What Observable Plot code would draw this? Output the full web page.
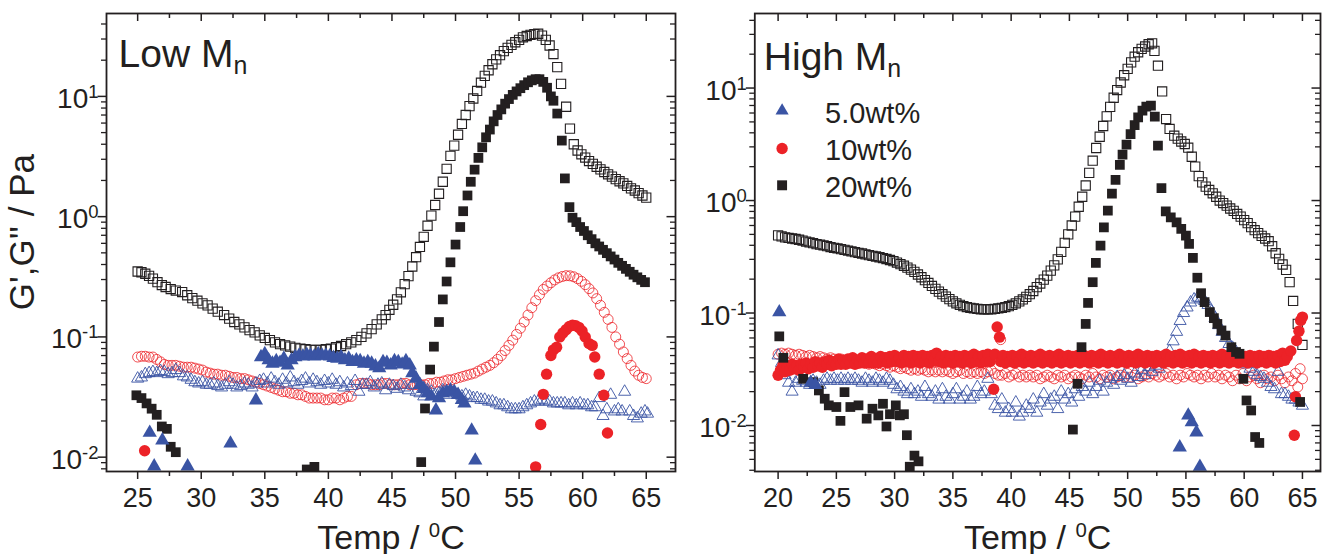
<!DOCTYPE html>
<html><head><meta charset="utf-8">
<script src="https://cdn.jsdelivr.net/npm/d3@7"></script>
<script src="https://cdn.jsdelivr.net/npm/@observablehq/plot@0.6"></script>
<style>
body{margin:0;background:#fff;}
#wrap{position:relative;width:1322px;height:554px;font-family:"Liberation Sans",Arial,sans-serif;}
#wrap svg{position:absolute;top:0;}
</style></head><body><div id="wrap"></div>
<script>
// ---------- DATA (Temp °C, modulus Pa) ----------
// Low Mn panel
const low20_Gpp = [[25.0,0.35],[25.3,0.345],[25.6,0.335],[25.9,0.322],[26.2,0.305],[26.56,0.285],[26.9,0.27],[27.2,0.26],[27.6,0.25],[28.0,0.243],[28.5,0.236],[28.9,0.222],[29.3,0.21],[29.7,0.2],[30.1,0.19],[30.5,0.183],[30.9,0.172],[31.3,0.162],[31.8,0.152],[32.2,0.142],[32.6,0.133],[33.0,0.127],[33.4,0.12],[33.8,0.114],[34.2,0.109],[34.6,0.103],[35.0,0.098],[35.4,0.094],[35.8,0.09],[36.2,0.087],[36.6,0.085],[37.0,0.083],[37.4,0.081],[37.8,0.08],[38.2,0.079],[38.6,0.078],[39.0,0.078],[39.4,0.078],[39.8,0.079],[40.2,0.08],[40.6,0.082],[41.0,0.084],[41.4,0.087],[41.8,0.09],[42.2,0.094],[42.6,0.1],[43.0,0.107],[43.4,0.116],[43.8,0.127],[44.2,0.14],[44.5,0.152],[44.8,0.168],[45.1,0.185],[45.4,0.205],[45.7,0.235],[46.0,0.275],[46.3,0.32],[46.6,0.385],[46.9,0.46],[47.2,0.56],[47.5,0.68],[47.8,0.84],[48.1,1.02],[48.4,1.25],[48.7,1.55],[49.0,1.95],[49.3,2.5],[49.6,3.2],[49.9,3.9],[50.2,4.8],[50.5,5.9],[50.8,7.0],[51.1,8.3],[51.4,9.6],[51.7,11.1],[52.0,13.0],[52.3,14.8],[52.6,16.5],[52.9,18.5],[53.2,20.3],[53.5,22.0],[53.8,23.8],[54.1,25.3],[54.4,26.8],[54.7,28.2],[55.0,29.5],[55.3,31.0],[55.6,31.8],[55.9,32.5],[56.2,33.0],[56.5,33.2],[56.8,32.0],[57.1,29.5],[57.4,26.5],[57.7,22.5],[58.0,17.5],[58.3,12.7],[58.7,8.2],[59.0,5.4],[59.3,4.0],[59.6,3.55],[59.9,3.3],[60.2,3.1],[60.5,2.9],[60.8,2.75],[61.1,2.6],[61.4,2.47],[61.7,2.35],[62.0,2.25],[62.3,2.15],[62.6,2.05],[62.9,1.97],[63.2,1.89],[63.5,1.8],[63.8,1.72],[64.1,1.65],[64.4,1.57],[64.7,1.5],[65.0,1.44]];
const low20_Gp = [[24.9,0.0327],[25.3,0.031],[25.7,0.028],[26.1,0.0253],[26.5,0.0225],[26.9,0.018],[27.3,0.0172],[27.6,0.0122],[28.0,0.011],[38.3,0.0079],[38.9,0.0083],[47.3,0.0091],[47.6,0.0254],[48.0,0.0535],[48.3,0.083],[48.7,0.133],[49.0,0.205],[49.3,0.289],[49.6,0.417],[50.0,0.586],[50.37,0.82],[50.6,1.11],[50.94,1.5],[51.2,1.95],[51.5,2.46],[51.8,3.08],[52.1,3.77],[52.4,4.57],[52.7,5.3],[53.0,6.2],[53.3,7.0],[53.6,7.8],[53.9,8.7],[54.2,9.5],[54.5,10.3],[54.8,11.0],[55.1,11.7],[55.4,12.4],[55.7,13.1],[56.0,13.6],[56.3,13.9],[56.6,13.9],[56.9,13.2],[57.2,11.8],[57.5,10.0],[57.7,9.2],[58.0,7.2],[58.36,4.29],[58.6,2.08],[58.96,1.2],[59.2,0.98],[59.5,0.9],[59.8,0.82],[60.1,0.76],[60.4,0.7],[60.7,0.65],[61.0,0.6],[61.3,0.565],[61.6,0.53],[61.9,0.497],[62.2,0.467],[62.5,0.44],[62.8,0.413],[63.1,0.39],[63.4,0.368],[63.7,0.348],[64.0,0.329],[64.3,0.313],[64.6,0.298],[64.9,0.285]];
const low10_Gpp = [[25.0,0.068],[25.3,0.069],[25.6,0.069],[25.9,0.068],[26.2,0.068],[26.5,0.065],[26.8,0.062],[27.1,0.059],[27.4,0.058],[27.7,0.058],[28.0,0.058],[28.3,0.057],[28.6,0.056],[28.9,0.056],[29.2,0.056],[29.5,0.055],[29.8,0.054],[30.1,0.053],[30.4,0.051],[30.7,0.05],[31.0,0.049],[31.3,0.049],[31.6,0.048],[31.9,0.048],[32.2,0.047],[32.5,0.046],[32.8,0.046],[33.1,0.045],[33.4,0.045],[33.7,0.044],[34.0,0.043],[34.3,0.042],[34.6,0.041],[34.9,0.04],[35.2,0.039],[35.5,0.038],[35.8,0.037],[36.1,0.036],[36.4,0.035],[36.7,0.035],[37.0,0.034],[37.3,0.034],[37.6,0.033],[37.9,0.033],[38.2,0.032],[38.5,0.031],[38.8,0.031],[39.1,0.031],[39.4,0.031],[39.7,0.03],[40.0,0.03],[40.3,0.031],[40.6,0.031],[40.9,0.03],[41.2,0.031],[41.5,0.032],[41.8,0.032],[42.2,0.04],[42.5,0.041],[42.8,0.041],[43.1,0.041],[43.4,0.04],[43.7,0.04],[44.0,0.04],[44.3,0.041],[44.6,0.041],[44.9,0.04],[45.2,0.04],[45.5,0.04],[45.8,0.041],[46.1,0.041],[46.4,0.04],[46.7,0.04],[47.0,0.04],[47.3,0.04],[47.6,0.04],[47.9,0.041],[48.2,0.041],[48.5,0.042],[48.8,0.042],[49.1,0.043],[49.4,0.044],[49.7,0.044],[50.0,0.045],[50.3,0.046],[50.6,0.047],[50.9,0.048],[51.2,0.049],[51.5,0.05],[51.8,0.052],[52.1,0.054],[52.4,0.056],[52.7,0.058],[53.0,0.061],[53.3,0.065],[53.6,0.07],[53.9,0.077],[54.2,0.085],[54.5,0.094],[54.8,0.105],[55.1,0.118],[55.4,0.133],[55.7,0.152],[56.0,0.175],[56.3,0.2],[56.6,0.224],[56.9,0.248],[57.2,0.265],[57.5,0.282],[57.8,0.298],[58.1,0.31],[58.4,0.318],[58.7,0.323],[59.0,0.322],[59.3,0.316],[59.6,0.305],[59.9,0.29],[60.2,0.272],[60.5,0.252],[60.8,0.232],[61.1,0.208],[61.4,0.183],[61.7,0.16],[62.0,0.14],[62.3,0.12],[62.6,0.1],[62.9,0.087],[63.2,0.075],[63.5,0.066],[63.8,0.058],[64.1,0.052],[64.4,0.048],[64.7,0.046],[65.0,0.045]];
const low10_Gp = [[25.55,0.0113],[56.3,0.0083],[56.7,0.0187],[56.9,0.0333],[57.16,0.049],[57.5,0.07],[57.7,0.078],[57.95,0.082],[58.2,0.1],[58.45,0.108],[58.7,0.115],[58.95,0.122],[59.2,0.125],[59.45,0.124],[59.7,0.12],[59.95,0.112],[60.2,0.1],[60.5,0.088],[60.75,0.085],[60.95,0.068],[61.3,0.049],[61.66,0.0327],[61.95,0.0159]];
const low5_Gpp = [[25.0,0.045],[25.3,0.046],[25.6,0.049],[25.9,0.05],[26.2,0.051],[26.5,0.05],[26.8,0.052],[27.1,0.051],[27.4,0.049],[27.7,0.05],[28.0,0.053],[28.3,0.05],[28.6,0.047],[28.9,0.046],[29.2,0.044],[29.5,0.042],[29.8,0.041],[30.1,0.042],[30.4,0.04],[30.7,0.04],[31.0,0.041],[31.3,0.039],[31.6,0.038],[31.9,0.04],[32.2,0.042],[32.5,0.04],[32.8,0.038],[33.1,0.039],[33.4,0.041],[33.7,0.04],[34.0,0.038],[34.3,0.041],[34.6,0.043],[34.9,0.044],[35.2,0.041],[35.5,0.045],[35.8,0.042],[36.1,0.04],[36.4,0.044],[36.7,0.041],[37.0,0.046],[37.3,0.042],[37.6,0.04],[37.9,0.043],[38.2,0.045],[38.5,0.041],[38.8,0.044],[39.1,0.042],[39.4,0.04],[39.7,0.043],[40.0,0.041],[40.3,0.044],[40.6,0.04],[40.9,0.042],[41.2,0.038],[41.5,0.041],[41.8,0.039],[42.1,0.043],[42.4,0.035],[42.7,0.04],[43.0,0.04],[43.3,0.042],[43.6,0.038],[43.9,0.04],[44.2,0.041],[44.5,0.036],[44.8,0.04],[45.1,0.039],[45.4,0.037],[45.7,0.04],[46.0,0.038],[46.3,0.036],[46.6,0.04],[46.9,0.035],[47.2,0.034],[47.5,0.032],[47.8,0.036],[48.1,0.035],[48.4,0.033],[48.7,0.034],[49.0,0.036],[49.3,0.033],[49.6,0.035],[49.9,0.034],[50.2,0.033],[50.5,0.032],[50.8,0.033],[51.1,0.032],[51.4,0.031],[51.7,0.031],[52.0,0.03],[52.3,0.03],[52.6,0.029],[52.9,0.029],[53.2,0.028],[53.5,0.027],[53.8,0.027],[54.1,0.026],[54.4,0.025],[54.7,0.025],[55.0,0.025],[55.3,0.026],[55.6,0.027],[55.9,0.028],[56.2,0.029],[56.5,0.029],[56.8,0.03],[57.1,0.029],[57.4,0.029],[57.7,0.028],[58.0,0.028],[58.3,0.028],[58.6,0.028],[58.9,0.027],[59.2,0.028],[59.5,0.027],[59.8,0.028],[60.1,0.027],[60.4,0.027],[60.7,0.026],[61.0,0.026],[61.3,0.031],[61.6,0.022],[61.9,0.025],[62.2,0.033],[62.5,0.024],[62.8,0.025],[63.1,0.024],[63.3,0.035],[63.7,0.024],[64.0,0.022],[64.3,0.021],[64.6,0.023],[64.9,0.024],[65.1,0.023]];
const low5_Gp = [[25.95,0.016],[26.3,0.0084],[26.94,0.0138],[28.93,0.0084],[32.3,0.013],[34.3,0.0297],[34.7,0.068],[35.0,0.072],[35.3,0.064],[35.6,0.06],[35.9,0.063],[36.2,0.061],[36.5,0.066],[36.8,0.058],[37.1,0.064],[37.4,0.068],[37.7,0.07],[38.0,0.069],[38.3,0.071],[38.6,0.07],[38.9,0.069],[39.2,0.072],[39.5,0.07],[39.8,0.07],[40.1,0.069],[40.4,0.067],[40.7,0.066],[41.0,0.068],[41.3,0.064],[41.6,0.066],[41.9,0.062],[42.2,0.064],[42.5,0.063],[42.8,0.06],[43.1,0.062],[43.4,0.06],[43.7,0.057],[44.0,0.055],[44.3,0.062],[44.6,0.061],[44.9,0.058],[45.2,0.063],[45.5,0.062],[45.8,0.059],[46.1,0.063],[46.4,0.058],[46.6,0.05],[46.9,0.045],[47.2,0.04],[47.5,0.037],[47.8,0.034],[48.1,0.032],[48.46,0.0245],[48.7,0.031],[49.0,0.034],[49.3,0.035],[49.6,0.036],[49.9,0.035],[50.2,0.033],[50.5,0.03],[50.7,0.028],[51.27,0.0167],[51.55,0.0094]];

// High Mn panel
const high20_Gpp = [[20.0,0.49],[20.3,0.48],[20.6,0.47],[20.9,0.465],[21.2,0.46],[21.5,0.455],[21.8,0.448],[22.1,0.44],[22.4,0.432],[22.7,0.425],[23.0,0.418],[23.3,0.41],[23.6,0.405],[23.9,0.4],[24.2,0.393],[24.5,0.386],[24.8,0.38],[25.1,0.375],[25.4,0.37],[25.7,0.364],[26.0,0.358],[26.3,0.353],[26.6,0.348],[26.9,0.343],[27.2,0.338],[27.5,0.332],[27.8,0.327],[28.1,0.322],[28.4,0.318],[28.7,0.313],[29.0,0.308],[29.3,0.302],[29.6,0.296],[29.9,0.289],[30.2,0.281],[30.5,0.272],[30.8,0.263],[31.1,0.253],[31.4,0.243],[31.7,0.232],[32.0,0.22],[32.3,0.208],[32.6,0.196],[32.9,0.185],[33.2,0.174],[33.5,0.164],[33.8,0.155],[34.1,0.147],[34.4,0.14],[34.7,0.133],[35.0,0.127],[35.3,0.122],[35.6,0.118],[35.9,0.115],[36.2,0.113],[36.5,0.111],[36.8,0.11],[37.1,0.109],[37.4,0.108],[37.7,0.108],[38.0,0.108],[38.3,0.108],[38.6,0.109],[38.9,0.11],[39.2,0.111],[39.5,0.113],[39.8,0.115],[40.1,0.118],[40.4,0.122],[40.7,0.127],[41.0,0.132],[41.3,0.139],[41.6,0.147],[41.9,0.157],[42.2,0.17],[42.5,0.183],[42.8,0.198],[43.1,0.215],[43.4,0.238],[43.7,0.265],[44.0,0.3],[44.3,0.35],[44.6,0.42],[44.9,0.5],[45.2,0.6],[45.5,0.72],[45.8,0.88],[46.1,1.08],[46.4,1.36],[46.7,1.76],[47.0,2.26],[47.3,2.93],[47.6,3.69],[47.9,4.6],[48.2,5.6],[48.5,6.8],[48.8,8.2],[49.1,9.6],[49.4,11.2],[49.7,13.0],[50.0,14.8],[50.3,16.9],[50.6,19.0],[50.9,20.8],[51.2,22.3],[51.5,23.4],[51.8,24.5],[52.1,25.0],[52.3,21.4],[52.6,15.8],[52.96,9.33],[53.3,5.3],[53.6,4.33],[54.0,3.77],[54.3,3.55],[54.6,3.35],[54.9,3.18],[55.2,2.95],[55.5,2.45],[55.8,2.0],[56.1,1.65],[56.4,1.45],[56.7,1.33],[57.0,1.24],[57.3,1.16],[57.6,1.08],[57.9,1.0],[58.2,0.95],[58.5,0.9],[58.8,0.85],[59.1,0.81],[59.4,0.76],[59.7,0.72],[60.0,0.67],[60.3,0.63],[60.6,0.58],[60.9,0.545],[61.2,0.513],[61.5,0.485],[61.8,0.46],[62.1,0.435],[62.4,0.392],[62.7,0.34],[63.0,0.303],[63.3,0.27],[63.6,0.242],[63.9,0.188],[64.2,0.128],[64.6,0.08],[65.0,0.052]];
const high20_Gp = [[20.1,0.062],[20.45,0.04],[22.15,0.026],[23.0,0.0243],[23.5,0.0205],[24.0,0.0173],[24.35,0.0151],[25.0,0.0146],[25.35,0.011],[25.7,0.0198],[26.2,0.0146],[26.9,0.0151],[27.6,0.0115],[28.1,0.0141],[28.6,0.0123],[29.0,0.0156],[29.3,0.0098],[29.6,0.0126],[30.1,0.0151],[30.45,0.0123],[30.8,0.0126],[31.05,0.0082],[31.3,0.0043],[31.7,0.0054],[32.05,0.0048],[45.3,0.0092],[45.7,0.0235],[46.04,0.0497],[46.4,0.08],[46.6,0.123],[47.0,0.188],[47.27,0.279],[47.67,0.398],[47.96,0.578],[48.3,0.813],[48.65,1.15],[48.96,1.53],[49.33,2.07],[49.56,2.56],[49.9,3.14],[50.25,3.9],[50.6,4.69],[50.9,5.48],[51.27,6.29],[51.6,6.82],[52.0,6.97],[52.33,5.56],[52.6,3.08],[52.9,1.29],[53.27,0.8],[53.7,0.71],[54.2,0.64],[54.6,0.56],[55.0,0.488],[55.27,0.412],[55.6,0.309],[55.98,0.206],[56.3,0.15],[56.6,0.125],[57.05,0.102],[57.4,0.09],[57.7,0.08],[58.05,0.07],[58.4,0.063],[58.9,0.0497],[59.3,0.045],[59.6,0.0434],[59.93,0.026],[60.2,0.0167],[60.6,0.0136],[60.94,0.0079],[61.3,0.007],[64.8,0.0162]];
const high10_Gpp = [[20.0,0.043],[20.3,0.044],[20.6,0.043],[20.9,0.044],[21.2,0.043],[21.5,0.042],[21.8,0.043],[22.1,0.042],[22.4,0.041],[22.7,0.042],[23.0,0.041],[23.3,0.04],[23.6,0.041],[23.9,0.04],[24.2,0.039],[24.5,0.04],[24.8,0.039],[25.1,0.038],[25.4,0.039],[25.7,0.038],[26.0,0.037],[26.3,0.038],[26.6,0.037],[26.9,0.036],[27.2,0.037],[27.5,0.036],[27.8,0.035],[28.1,0.036],[28.4,0.035],[28.7,0.034],[29.0,0.035],[29.3,0.034],[29.6,0.033],[29.9,0.034],[30.2,0.033],[30.5,0.032],[30.8,0.033],[31.1,0.032],[31.4,0.031],[31.7,0.032],[32.0,0.031],[32.3,0.032],[32.6,0.031],[32.9,0.03],[33.2,0.031],[33.5,0.03],[33.8,0.031],[34.1,0.03],[34.4,0.031],[34.7,0.03],[35.0,0.029],[35.3,0.03],[35.6,0.031],[35.9,0.029],[36.2,0.03],[36.5,0.029],[36.8,0.03],[37.1,0.029],[37.4,0.03],[37.7,0.029],[38.0,0.03],[38.3,0.031],[38.6,0.029],[38.9,0.028],[39.1,0.058],[39.2,0.028],[39.5,0.029],[39.8,0.027],[40.1,0.028],[40.4,0.029],[40.7,0.027],[41.0,0.028],[41.3,0.027],[41.6,0.028],[41.9,0.027],[42.2,0.028],[42.5,0.026],[42.8,0.027],[43.1,0.028],[43.4,0.027],[43.7,0.026],[44.0,0.028],[44.3,0.027],[44.6,0.028],[44.9,0.026],[45.2,0.027],[45.5,0.028],[45.8,0.027],[46.1,0.026],[46.4,0.028],[46.7,0.027],[47.0,0.029],[47.3,0.027],[47.6,0.026],[47.9,0.028],[48.2,0.027],[48.5,0.028],[48.8,0.026],[49.1,0.027],[49.4,0.028],[49.7,0.027],[50.0,0.029],[50.3,0.027],[50.6,0.028],[50.9,0.026],[51.2,0.027],[51.5,0.028],[51.8,0.027],[52.1,0.029],[52.4,0.028],[52.7,0.027],[53.0,0.028],[53.3,0.029],[53.6,0.027],[53.9,0.028],[54.2,0.026],[54.5,0.028],[54.8,0.027],[55.1,0.029],[55.4,0.028],[55.7,0.027],[56.0,0.028],[56.3,0.026],[56.6,0.028],[56.9,0.027],[57.2,0.029],[57.5,0.027],[57.8,0.028],[58.1,0.026],[58.4,0.028],[58.7,0.027],[59.0,0.025],[59.3,0.028],[59.6,0.026],[59.9,0.029],[60.2,0.025],[60.5,0.027],[60.8,0.028],[61.1,0.026],[61.4,0.024],[61.7,0.028],[62.0,0.026],[62.3,0.027],[62.6,0.025],[62.9,0.028],[63.2,0.026],[63.5,0.024],[63.8,0.027],[64.1,0.025],[64.4,0.029],[64.6,0.022],[64.8,0.032],[65.0,0.026]];
const high10_Gp = [[20.0,0.028],[20.2,0.031],[20.4,0.034],[20.6,0.03],[20.8,0.033],[21.0,0.031],[21.2,0.035],[21.4,0.032],[21.6,0.034],[21.8,0.031],[22.0,0.035],[22.2,0.033],[22.4,0.036],[22.6,0.032],[22.8,0.035],[23.0,0.033],[23.2,0.037],[23.4,0.034],[23.6,0.036],[23.8,0.033],[24.0,0.037],[24.2,0.035],[24.4,0.038],[24.6,0.034],[24.8,0.037],[25.0,0.035],[25.2,0.039],[25.4,0.035],[25.6,0.038],[25.8,0.035],[26.0,0.039],[26.2,0.036],[26.4,0.04],[26.6,0.035],[26.8,0.038],[27.0,0.036],[27.2,0.04],[27.4,0.036],[27.6,0.039],[27.8,0.036],[28.0,0.041],[28.2,0.036],[28.4,0.039],[28.6,0.036],[28.8,0.041],[29.0,0.037],[29.2,0.04],[29.4,0.036],[29.6,0.041],[29.8,0.037],[30.0,0.042],[30.2,0.037],[30.4,0.04],[30.6,0.036],[30.8,0.042],[31.0,0.037],[31.2,0.041],[31.4,0.036],[31.6,0.042],[31.8,0.037],[32.0,0.041],[32.2,0.036],[32.4,0.042],[32.6,0.037],[32.8,0.041],[33.0,0.036],[33.2,0.042],[33.4,0.038],[33.6,0.044],[33.8,0.037],[34.0,0.041],[34.2,0.036],[34.4,0.042],[34.6,0.037],[34.8,0.041],[35.0,0.036],[35.2,0.042],[35.4,0.037],[35.6,0.041],[35.8,0.036],[36.0,0.042],[36.2,0.037],[36.4,0.041],[36.6,0.036],[36.8,0.043],[37.0,0.037],[37.2,0.041],[37.4,0.036],[37.6,0.042],[37.8,0.037],[38.0,0.043],[38.2,0.037],[38.5,0.021],[38.6,0.043],[38.8,0.075],[39.0,0.061],[39.1,0.037],[39.3,0.042],[39.5,0.036],[39.7,0.041],[39.9,0.037],[40.1,0.042],[40.3,0.036],[40.5,0.041],[40.7,0.037],[40.9,0.043],[41.1,0.036],[41.3,0.041],[41.5,0.037],[41.7,0.042],[41.9,0.036],[42.1,0.041],[42.3,0.037],[42.5,0.043],[42.7,0.036],[42.9,0.041],[43.1,0.037],[43.3,0.042],[43.5,0.036],[43.7,0.041],[43.9,0.037],[44.1,0.043],[44.3,0.036],[44.5,0.041],[44.7,0.037],[44.9,0.042],[45.1,0.036],[45.3,0.041],[45.5,0.037],[45.7,0.042],[45.9,0.036],[46.1,0.043],[46.3,0.037],[46.5,0.041],[46.7,0.036],[46.9,0.042],[47.1,0.037],[47.3,0.041],[47.5,0.036],[47.7,0.043],[47.9,0.037],[48.1,0.041],[48.3,0.036],[48.5,0.042],[48.7,0.037],[48.9,0.041],[49.1,0.036],[49.3,0.043],[49.5,0.037],[49.7,0.041],[49.9,0.036],[50.1,0.042],[50.3,0.037],[50.5,0.041],[50.7,0.036],[50.9,0.043],[51.1,0.037],[51.3,0.041],[51.5,0.036],[51.7,0.042],[51.9,0.037],[52.1,0.041],[52.3,0.036],[52.5,0.042],[52.7,0.037],[52.9,0.041],[53.1,0.036],[53.3,0.043],[53.5,0.037],[53.7,0.041],[53.9,0.036],[54.1,0.042],[54.3,0.037],[54.5,0.043],[54.7,0.036],[54.9,0.041],[55.1,0.037],[55.3,0.042],[55.5,0.036],[55.7,0.043],[55.9,0.037],[56.1,0.041],[56.3,0.036],[56.5,0.042],[56.7,0.037],[56.9,0.041],[57.1,0.036],[57.3,0.042],[57.5,0.037],[57.7,0.041],[57.9,0.036],[58.1,0.043],[58.3,0.037],[58.5,0.041],[58.7,0.036],[58.9,0.042],[59.1,0.037],[59.3,0.041],[59.5,0.036],[59.7,0.042],[59.9,0.037],[60.1,0.041],[60.3,0.036],[60.5,0.042],[60.7,0.037],[60.9,0.041],[61.1,0.036],[61.3,0.042],[61.5,0.037],[61.7,0.041],[61.9,0.036],[62.1,0.042],[62.3,0.037],[62.5,0.041],[62.7,0.036],[62.9,0.042],[63.1,0.037],[63.3,0.044],[63.5,0.038],[63.7,0.041],[64.0,0.046],[64.3,0.0082],[64.4,0.018],[64.5,0.057],[64.7,0.069],[64.85,0.086],[65.0,0.092]];
const high5_Gpp = [[20.0,0.042],[20.3,0.036],[20.6,0.028],[20.9,0.024],[21.2,0.02],[21.5,0.024],[21.8,0.026],[22.1,0.025],[22.4,0.024],[22.7,0.023],[23.0,0.025],[23.3,0.024],[23.6,0.023],[23.9,0.025],[24.2,0.026],[24.5,0.025],[24.8,0.026],[25.1,0.025],[25.4,0.026],[25.7,0.025],[26.0,0.026],[26.3,0.025],[26.6,0.026],[26.9,0.025],[27.2,0.024],[27.5,0.026],[27.8,0.025],[28.1,0.024],[28.4,0.026],[28.7,0.025],[29.0,0.024],[29.3,0.026],[29.6,0.025],[29.9,0.023],[30.2,0.021],[30.5,0.022],[30.8,0.02],[31.1,0.019],[31.4,0.021],[31.7,0.019],[32.0,0.02],[32.3,0.018],[32.6,0.022],[32.9,0.019],[33.2,0.018],[33.5,0.02],[33.8,0.017],[34.1,0.021],[34.4,0.018],[34.7,0.017],[35.0,0.019],[35.3,0.021],[35.6,0.017],[35.9,0.018],[36.2,0.02],[36.5,0.017],[36.8,0.018],[37.1,0.022],[37.4,0.019],[37.7,0.02],[38.0,0.026],[38.3,0.019],[38.6,0.015],[38.9,0.014],[39.2,0.017],[39.5,0.013],[39.8,0.014],[40.1,0.013],[40.4,0.016],[40.7,0.012],[41.0,0.013],[41.3,0.015],[41.6,0.014],[41.9,0.017],[42.2,0.013],[42.5,0.016],[42.8,0.019],[43.1,0.015],[43.4,0.017],[43.7,0.018],[44.0,0.014],[44.3,0.02],[44.6,0.017],[44.9,0.019],[45.2,0.016],[45.5,0.021],[45.8,0.018],[46.1,0.022],[46.4,0.02],[46.7,0.024],[47.0,0.019],[47.3,0.022],[47.6,0.025],[47.9,0.02],[48.2,0.024],[48.5,0.026],[48.8,0.023],[49.1,0.027],[49.4,0.025],[49.7,0.028],[50.0,0.026],[50.3,0.024],[50.6,0.029],[50.9,0.027],[51.2,0.031],[51.5,0.028],[51.8,0.033],[52.1,0.03],[52.4,0.034],[52.7,0.032],[53.0,0.037],[53.3,0.04],[53.6,0.046],[53.9,0.056],[54.2,0.068],[54.5,0.085],[54.8,0.1],[55.1,0.112],[55.4,0.124],[55.7,0.132],[56.0,0.137],[56.3,0.135],[56.6,0.128],[56.9,0.118],[57.2,0.103],[57.5,0.09],[57.8,0.078],[58.1,0.068],[58.4,0.06],[58.7,0.053],[59.0,0.049],[59.3,0.045],[59.6,0.042],[59.9,0.038],[60.2,0.035],[60.5,0.032],[60.8,0.03],[61.1,0.028],[61.4,0.027],[61.7,0.026],[62.0,0.024],[62.3,0.022],[62.6,0.021],[62.9,0.03],[63.2,0.019],[63.5,0.019],[63.8,0.018],[64.1,0.017],[64.4,0.017],[64.7,0.016],[65.0,0.015]];
const high5_Gp = [[20.1,0.1016],[22.8,0.024],[23.2,0.023],[54.47,0.0064],[55.2,0.0123],[55.5,0.0107],[55.9,0.0087],[56.2,0.0043]];

// Axis ticks and labels
const lowXTicks = [25,30,35,40,45,50,55,60,65];
const lowXMinor = [27.5,32.5,37.5,42.5,47.5,52.5,57.5,62.5];
const highXTicks = [20,25,30,35,40,45,50,55,60,65];
const highXMinor = [22.5,27.5,32.5,37.5,42.5,47.5,52.5,57.5,62.5];
const yDecades = [0.01,0.1,1,10];
const legendLabels = ["5.0wt%","10wt%","20wt%"];
const panelTitles = ["Low M_{n}","High M_{n}"];
const yTitle = "G',G'' / Pa";
const xTitle = "Temp / ^{0}C";

// ---------- STYLE ----------
const BLUE="#3a54a4", RED="#ec2227", BLACK="#231f20";
const H=554, MT=13, MB=83, FH=H-MT-MB;

function minorY(domain){
  const out=[];
  for (let e=-4;e<=2;e++) for (let k=2;k<=9;k++){const v=k*Math.pow(10,e); if(v>domain[0]&&v<domain[1]) out.push(v);}
  return out;
}

function series(s){
  const marks=[];
  const T=d=>d[0], V=d=>d[1];
  marks.push(Plot.dot(s.g20pp,{x:T,y:V,symbol:"square",r:5.2,fill:"none",stroke:BLACK,strokeWidth:1.1,clip:true}));
  marks.push(Plot.dot(s.g10pp,{x:T,y:V,symbol:"circle",r:5,fill:"none",stroke:RED,strokeWidth:0.8,clip:true}));
  marks.push(Plot.dot(s.g5pp,{x:T,y:V,symbol:"triangle",r:4.5,fill:"none",stroke:BLUE,strokeWidth:0.9,clip:true}));
  marks.push(Plot.dot(s.g10p,{x:T,y:V,symbol:"circle",r:5.7,fill:RED,stroke:"none",clip:true}));
  marks.push(Plot.dot(s.g20p,{x:T,y:V,symbol:"square",r:5.5,fill:BLACK,stroke:"none",clip:true}));
  marks.push(Plot.dot(s.g5p,{x:T,y:V,symbol:"triangle",r:5.3,fill:BLUE,stroke:"none",clip:true}));
  return marks;
}

function panel(o){
  const FW=o.width-o.ml-o.mr;
  const ymin=minorY(o.yDomain);
  const marks=[
    ...series(o.s),
    Plot.frame({stroke:BLACK,strokeWidth:1.8}),
    Plot.tickX(o.xTicks,{x:d=>d,insetTop:FH,insetBottom:-8,stroke:BLACK,strokeWidth:1.5}),
    Plot.tickX(o.xMinor,{x:d=>d,insetTop:FH,insetBottom:-5,stroke:BLACK,strokeWidth:1.5}),
    Plot.tickX(o.xTicks,{x:d=>d,insetTop:0,insetBottom:FH-8,stroke:BLACK,strokeWidth:1.5}),
    Plot.tickX(o.xMinor,{x:d=>d,insetTop:0,insetBottom:FH-5,stroke:BLACK,strokeWidth:1.5}),
    Plot.tickY(yDecades,{y:d=>d,insetLeft:-8.5,insetRight:FW,stroke:BLACK,strokeWidth:1.5}),
    Plot.tickY(ymin,{y:d=>d,insetLeft:-5,insetRight:FW,stroke:BLACK,strokeWidth:1.3}),
    Plot.tickY(yDecades,{y:d=>d,insetLeft:FW-8.5,insetRight:0,stroke:BLACK,strokeWidth:1.5}),
    Plot.tickY(ymin,{y:d=>d,insetLeft:FW-5,insetRight:0,stroke:BLACK,strokeWidth:1.3}),
    Plot.text(o.xTicks,{x:d=>d,frameAnchor:"bottom",dy:27,lineAnchor:"middle",fontSize:27,fill:BLACK,text:d=>String(d)}),
    Plot.text(yDecades,{y:d=>d,frameAnchor:"left",dx:-8,dy:2.6,textAnchor:"end",lineAnchor:"middle",fontSize:28,fill:BLACK,text:d=>"10^{"+Math.round(Math.log10(d))+"}"}),
    Plot.text([xTitle],{frameAnchor:"bottom",dy:66.7,lineAnchor:"middle",fontSize:34,fill:BLACK,text:d=>d}),
    Plot.text([o.title],{frameAnchor:"top-left",dx:o.titleDx,dy:o.titleDy,textAnchor:"start",lineAnchor:"bottom",fontSize:39,fill:BLACK,text:d=>d})
  ];
  if (o.yTitle) marks.push(Plot.text([o.yTitle],{frameAnchor:"left",dx:-84,dy:-10.4,rotate:-90,textAnchor:"middle",lineAnchor:"middle",fontSize:35,fill:BLACK,text:d=>d}));
  if (o.legend){
    const sym=[["triangle",BLUE,4.9],["circle",RED,5.7],["square",BLACK,5.6]];
    const ys=[97.3,135,171.8];
    sym.forEach(([s,c,r],i)=>{
      marks.push(Plot.dot([legendLabels[i]],{frameAnchor:"top-left",dx:27.3,dy:ys[i],symbol:s,r,fill:c,stroke:"none"}));
      marks.push(Plot.text([legendLabels[i]],{frameAnchor:"top-left",dx:70.3,dy:ys[i]+2.5,textAnchor:"start",lineAnchor:"middle",fontSize:29,fill:BLACK,text:d=>d}));
    });
  }
  const svg=Plot.plot({
    width:o.width,height:H,marginTop:MT,marginBottom:MB,marginLeft:o.ml,marginRight:o.mr,
    x:{domain:o.xDomain,axis:null},
    y:{type:"log",domain:o.yDomain,axis:null},
    style:{fontFamily:'"Liberation Sans", Arial, sans-serif',background:"transparent",overflow:"visible"},
    marks
  });
  svg.style.left=o.left+"px";
  return svg;
}

function richText(svg){
  d3.select(svg).selectAll("text").each(function(){
    const s=this.textContent;
    if(!/[\^_]\{/.test(s)) return;
    const fs=parseFloat(getComputedStyle(this).fontSize)||20;
    const big=s.startsWith("10^");
    const parts=s.split(/(\^\{[^}]*\}|_\{[^}]*\})/).filter(p=>p!=="");
    this.textContent="";
    let shift=0;
    for(const p of parts){
      const t=d3.select(this).append("tspan");
      let target=0, txt=p;
      if(p.startsWith("^{")){target=-(big?0.36:0.35)*fs;txt=p.slice(2,-1);t.attr("font-size",(big?0.66:0.6)*fs);}
      else if(p.startsWith("_{")){target=0.2*fs;txt=p.slice(2,-1);t.attr("font-size",0.64*fs);}
      if(target-shift!==0) t.attr("dy",target-shift);
      shift=target;
      t.text(txt);
    }
  });
}

const wrap=document.getElementById("wrap");
const left=panel({left:0,width:680,ml:106,mr:5,xDomain:[22.55,67.3],yDomain:[0.0076,48.9],
  xTicks:lowXTicks,xMinor:lowXMinor,title:panelTitles[0],titleDx:12,titleDy:53,yTitle:yTitle,legend:false,
  s:{g20pp:low20_Gpp,g20p:low20_Gp,g10pp:low10_Gpp,g10p:low10_Gp,g5pp:low5_Gpp,g5p:low5_Gp}});
const right=panel({left:680,width:642,ml:74.3,mr:2,xDomain:[18.0,66.55],yDomain:[0.0039,46],
  xTicks:highXTicks,xMinor:highXMinor,title:panelTitles[1],titleDx:9,titleDy:56,legend:true,
  s:{g20pp:high20_Gpp,g20p:high20_Gp,g10pp:high10_Gpp,g10p:high10_Gp,g5pp:high5_Gpp,g5p:high5_Gp}});
wrap.appendChild(left); wrap.appendChild(right);
richText(left); richText(right);
</script></body></html>
